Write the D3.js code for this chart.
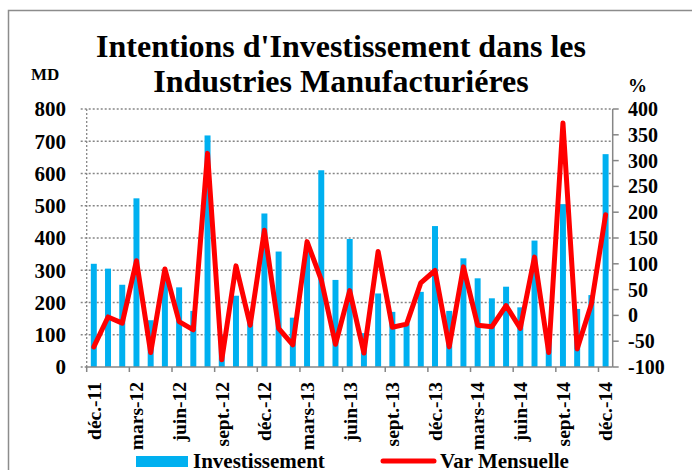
<!DOCTYPE html>
<html>
<head>
<meta charset="utf-8">
<script src="https://cdn.jsdelivr.net/npm/d3@7"></script>
<style>
	body { margin: 0; background: #fff; }
	text { font-family: "Times New Roman", "Liberation Serif", serif; font-weight: bold; fill: #000; }
</style>
</head>
<body>
<div id="chart"></div>
<script>
// data
var months = ['déc.-11','janv.-12','févr.-12','mars-12','avr.-12','mai-12','juin-12','juil.-12','août-12','sept.-12','oct.-12','nov.-12',
              'déc.-12','janv.-13','févr.-13','mars-13','avr.-13','mai-13','juin-13','juil.-13','août-13','sept.-13','oct.-13','nov.-13',
              'déc.-13','janv.-14','févr.-14','mars-14','avr.-14','mai-14','juin-14','juil.-14','août-14','sept.-14','oct.-14','nov.-14','déc.-14'];
var investissement = [320, 305, 255, 523, 145, 280, 247, 174, 718, 100, 221, 140,
                      476, 358, 153, 370, 610, 270, 397, 105, 228, 171, 135, 233,
                      437, 174, 337, 275, 213, 249, 185, 392, 107, 505, 180, 223, 660];
var varMensuelle = [-61, -3, -15, 106, -72, 90, -12, -28, 314, -86, 96, -19,
                    165, -25, -57, 143, 69, -56, 48, -73, 124, -23, -17, 63,
                    87, -61, 94, -19, -22, 19, -25, 113, -72, 373, -65, 22, 195];
var leftTicks  = [0, 100, 200, 300, 400, 500, 600, 700, 800];
var rightTicks = [-100, -50, 0, 50, 100, 150, 200, 250, 300, 350, 400];

var W = 692, H = 470;
// plot area (note: "top" is taken by window.top)
var plotL = 86.7, plotR = 612.7, plotT = 109, plotB = 367;
var gridColor = '#868686';

var svg = d3.select('#chart').append('svg')
	.attr('width', W)
	.attr('height', H);

// outer frame (runs off the picture on the right / bottom)
svg.append('rect')
	.attr('x', 8.5).attr('y', 10.5)
	.attr('width', 700).attr('height', 480)
	.attr('fill', 'none')
	.attr('stroke', '#8c8c8c')
	.attr('stroke-width', 1.5);

var x = d3.scaleBand()
	.domain(d3.range(months.length))
	.range([plotL, plotR])
	.paddingInner(0.58)
	.paddingOuter(0.29);

var yL = d3.scaleLinear().domain([0, 800]).range([plotB, plotT]);
var yR = d3.scaleLinear().domain([-100, 400]).range([plotB, plotT]);

// gridlines + left ticks
svg.append('g').selectAll('line')
	.data(leftTicks)
	.enter().append('line')
	.attr('x1', plotL - 6)
	.attr('x2', function(d){ return d === 0 ? plotL : plotR; })
	.attr('y1', function(d){ return yL(d); })
	.attr('y2', function(d){ return yL(d); })
	.attr('stroke', gridColor)
	.attr('stroke-width', 1.3)
	.attr('stroke-dasharray', '2,2');

// left axis (dotted)
svg.append('line')
	.attr('x1', plotL).attr('x2', plotL)
	.attr('y1', plotT).attr('y2', plotB)
	.attr('stroke', gridColor)
	.attr('stroke-width', 1.3)
	.attr('stroke-dasharray', '2,2');

// bars
svg.append('g').selectAll('rect')
	.data(investissement)
	.enter().append('rect')
	.attr('x', function(d, i){ return x(i); })
	.attr('y', function(d){ return yL(d); })
	.attr('width', x.bandwidth())
	.attr('height', function(d){ return yL(0) - yL(d); })
	.attr('fill', '#00b0f0');

// bottom axis
svg.append('line')
	.attr('x1', plotL).attr('x2', plotR)
	.attr('y1', plotB).attr('y2', plotB)
	.attr('stroke', gridColor)
	.attr('stroke-width', 1.5);

var step = x.step();
svg.append('g').selectAll('line')
	.data(d3.range(0, months.length + 1, 3))
	.enter().append('line')
	.attr('x1', function(i){ return plotL + i * step; })
	.attr('x2', function(i){ return plotL + i * step; })
	.attr('y1', plotB).attr('y2', plotB + 5)
	.attr('stroke', gridColor)
	.attr('stroke-width', 1.5);

// right axis
svg.append('line')
	.attr('x1', plotR).attr('x2', plotR)
	.attr('y1', plotT).attr('y2', plotB)
	.attr('stroke', gridColor)
	.attr('stroke-width', 1.5);

svg.append('g').selectAll('line')
	.data(rightTicks)
	.enter().append('line')
	.attr('x1', plotR).attr('x2', plotR + 6)
	.attr('y1', function(d){ return yR(d); })
	.attr('y2', function(d){ return yR(d); })
	.attr('stroke', gridColor)
	.attr('stroke-width', 1.5);

// var mensuelle line
var line = d3.line()
	.x(function(d, i){ return x(i) + x.bandwidth() / 2; })
	.y(function(d){ return yR(d); });

svg.append('path')
	.datum(varMensuelle)
	.attr('d', line)
	.attr('fill', 'none')
	.attr('stroke', '#ff0000')
	.attr('stroke-width', 5)
	.attr('stroke-linejoin', 'round')
	.attr('stroke-linecap', 'round');

// tick labels
svg.append('g').selectAll('text')
	.data(leftTicks)
	.enter().append('text')
	.attr('x', 66)
	.attr('y', function(d){ return yL(d); })
	.attr('dy', '0.35em')
	.attr('text-anchor', 'end')
	.style('font-size', '21px')
	.text(function(d){ return d; });

svg.append('g').selectAll('text')
	.data(rightTicks)
	.enter().append('text')
	.attr('x', 628)
	.attr('y', function(d){ return yR(d); })
	.attr('dy', '0.35em')
	.style('font-size', '20px')
	.text(function(d){ return d; });

svg.append('g').selectAll('text')
	.data(d3.range(0, months.length, 3))
	.enter().append('text')
	.attr('transform', function(i){
		return 'translate(' + (x(i) + x.bandwidth() / 2) + ',' + (plotB + 15) + ') rotate(-90)';
	})
	.attr('dy', '0.35em')
	.attr('text-anchor', 'end')
	.style('font-size', '19.5px')
	.text(function(i){ return months[i]; });

// units
svg.append('text').attr('x', 31).attr('y', 80).style('font-size', '17px').text('MD');
svg.append('text').attr('x', 628).attr('y', 92).style('font-size', '19px').text('%');

// title
svg.append('text')
	.attr('x', 341).attr('y', 57)
	.attr('text-anchor', 'middle')
	.style('font-size', '32px')
	.text("Intentions d'Investissement dans les");
svg.append('text')
	.attr('x', 341).attr('y', 92)
	.attr('text-anchor', 'middle')
	.style('font-size', '32px')
	.text('Industries Manufacturiéres');

// legend
svg.append('rect')
	.attr('x', 136).attr('y', 456)
	.attr('width', 52).attr('height', 11)
	.attr('fill', '#00b0f0');
svg.append('text').attr('x', 193).attr('y', 468).style('font-size', '21px').text('Investissement');

svg.append('line')
	.attr('x1', 383).attr('x2', 434)
	.attr('y1', 461).attr('y2', 461)
	.attr('stroke', '#ff0000')
	.attr('stroke-width', 5)
	.attr('stroke-linecap', 'round');
svg.append('text').attr('x', 440).attr('y', 468).style('font-size', '21px').text('Var Mensuelle');
</script>
</body>
</html>
